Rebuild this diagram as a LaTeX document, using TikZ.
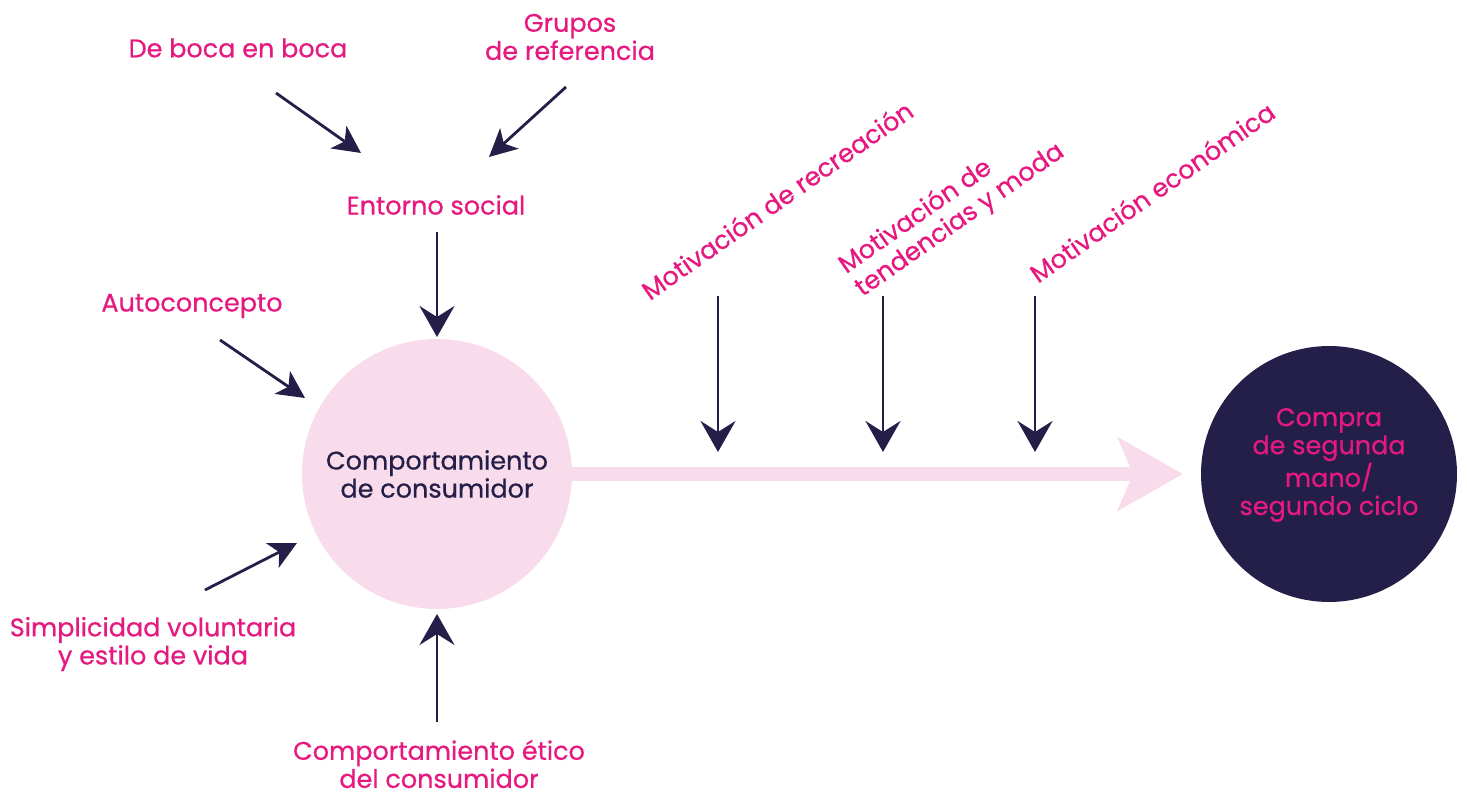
\documentclass[tikz,border=0pt]{standalone}
\usepackage{fontspec}
\setmainfont{Poppins}[FakeBold=0.6]
\usetikzlibrary{arrows.meta}
\definecolor{pinktxt}{HTML}{E5197F}
\definecolor{navy}{HTML}{241F49}
\definecolor{lightpink}{HTML}{F9DCEB}
\tikzset{
  lbl/.style={text=pinktxt, font=\fontsize{14.5}{16}\selectfont, align=center, inner sep=0pt},
  darrow/.style={draw=navy, line width=1.6pt, -{Stealth[length=0.62cm, width=0.7cm, inset=0.22cm]}},
  sarrow/.style={draw=navy, line width=1.6pt, -{Stealth[length=0.55cm, width=0.55cm, inset=0.15cm]}},
}
\begin{document}
\begin{tikzpicture}[x=0.02cm, y=-0.02cm]
\useasboundingbox (0,0) rectangle (1467,793);
% circles
\node[circle, fill=lightpink, minimum size=5.4cm, inner sep=0pt] (cc) at (437,474) {};
\node[text=navy, font=\fontsize{14.5}{16}\selectfont, align=center] (cctxt) at (437,474) {Comportamiento\\de consumidor};
\node[circle, fill=navy, minimum size=5.12cm, inner sep=0pt] (buy) at (1329,474) {};
\node[lbl] (buytxt) at (1329,465) {Compra\\de segunda\\mano/\\segundo ciclo};
% main pink arrow
\coordinate (tip) at (1183,474);
\draw[draw=lightpink, line width=0.28cm, -{Stealth[length=1.3cm, width=1.45cm, inset=0.3cm]}] (cc.east) -- (tip);
% labels
\node[lbl] (boca) at (238,48) {De boca en boca};
\node[lbl] (grupos) at (570,37) {Grupos\\de referencia};
\node[lbl] (entorno) at (436,205) {Entorno social};
\node[lbl] (auto) at (192,306) {Autoconcepto};
\node[lbl] (simp) at (153,644) {Simplicidad voluntaria\\y estilo de vida};
\node[lbl] (etico) at (439,764) {Comportamiento ético\\del consumidor};
\node[lbl, rotate=35] (m1) at (777,200) {Motivación de recreación};
\node[lbl, rotate=35, align=left] (m2) at (952,209) {Motivación de\\tendencias y moda};
\node[lbl, rotate=35] (m3) at (1152,192) {Motivación económica};
% arrow endpoints
\coordinate (b1) at (276,93);   \coordinate (b2) at (361,153);
\coordinate (g1) at (566,87);   \coordinate (g2) at (489,157);
\coordinate (e1) at (437,232);  \coordinate (e2) at (437,337);
\coordinate (a1) at (220,340);  \coordinate (a2) at (305,398);
\coordinate (s1) at (205,590);  \coordinate (s2) at (297,543);
\coordinate (t1) at (437,722);  \coordinate (t2) at (437,614);
\coordinate (m1a) at (718,296); \coordinate (m1b) at (718,452);
\coordinate (m2a) at (883,296); \coordinate (m2b) at (883,452);
\coordinate (m3a) at (1035,296); \coordinate (m3b) at (1035,452);
\draw[sarrow] (b1) -- (b2);
\draw[sarrow] (g1) -- (g2);
\draw[sarrow] (a1) -- (a2);
\draw[sarrow] (s1) -- (s2);
\draw[darrow] (e1) -- (e2);
\draw[darrow] (t1) -- (t2);
\draw[darrow] (m1a) -- (m1b);
\draw[darrow] (m2a) -- (m2b);
\draw[darrow] (m3a) -- (m3b);
\end{tikzpicture}
\end{document}
